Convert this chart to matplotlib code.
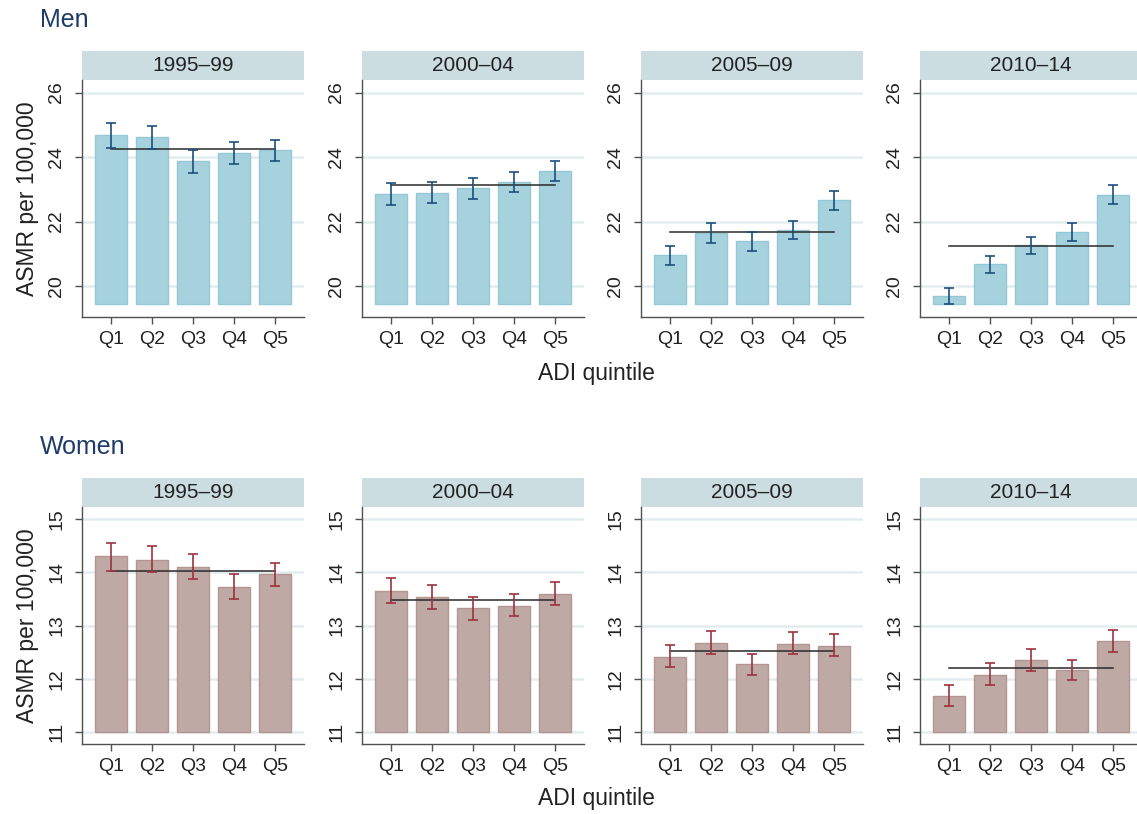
import matplotlib
matplotlib.use("Agg")
import matplotlib.pyplot as plt
import matplotlib.patches as patch
import numpy as np

plt.rcParams['font.family'] = ['Liberation Sans', 'DejaVu Sans']

periods = ['1995–99', '2000–04', '2005–09', '2010–14']
quintiles = ['Q1', 'Q2', 'Q3', 'Q4', 'Q5']

men_rate = [[24.67, 24.62, 23.87, 24.12, 24.21],
            [22.85, 22.88, 23.03, 23.22, 23.56],
            [20.95, 21.66, 21.40, 21.73, 22.67],
            [19.68, 20.67, 21.27, 21.67, 22.82]]
men_lo = [[24.29, 24.25, 23.51, 23.78, 23.88],
          [22.52, 22.57, 22.71, 22.91, 23.25],
          [20.64, 21.35, 21.10, 21.46, 22.37],
          [19.43, 20.39, 20.99, 21.40, 22.54]]
men_hi = [[25.07, 24.97, 24.21, 24.47, 24.54],
          [23.19, 23.22, 23.36, 23.54, 23.87],
          [21.24, 21.94, 21.67, 22.03, 22.95],
          [19.95, 20.94, 21.53, 21.96, 23.12]]
men_mean = [24.26, 23.12, 21.69, 21.23]

women_rate = [[14.30, 14.24, 14.11, 13.73, 13.96],
              [13.65, 13.54, 13.33, 13.37, 13.60],
              [12.41, 12.67, 12.28, 12.65, 12.62],
              [11.68, 12.07, 12.35, 12.16, 12.71]]
women_lo = [[14.03, 14.00, 13.87, 13.50, 13.74],
            [13.43, 13.31, 13.10, 13.17, 13.39],
            [12.21, 12.47, 12.06, 12.46, 12.43],
            [11.49, 11.88, 12.15, 11.97, 12.51]]
women_hi = [[14.55, 14.49, 14.35, 13.96, 14.17],
            [13.89, 13.77, 13.54, 13.60, 13.82],
            [12.64, 12.89, 12.47, 12.87, 12.84],
            [11.88, 12.29, 12.55, 12.36, 12.92]]
women_mean = [14.03, 13.48, 12.52, 12.20]

W, H = 1137, 814
fig = plt.figure(figsize=(W / 100, H / 100), dpi=100)


def px(x, y, w, h):
    return [x / W, 1 - (y + h) / H, w / W, h / H]


lefts = [82, 362, 641, 920]
pw = 222
strip_h = 29
txt = '#222222'


def draw_row(top, rate, lo, hi, mean, ylim, base, yticks, fc, ec, errc):
    axes = []
    for i, per in enumerate(periods):
        ax = fig.add_axes(px(lefts[i], top, pw, 237))
        x = np.arange(1, 6)
        r = np.array(rate[i])
        ax.bar(x, r - base, bottom=base, width=0.8, color=fc, edgecolor=ec,
               linewidth=1, zorder=2)
        ax.plot([1, 5], [mean[i], mean[i]], color='#2a2a2a', lw=1.1, zorder=3)
        ax.errorbar(x, r, yerr=[r - np.array(lo[i]), np.array(hi[i]) - r],
                    fmt='none', ecolor=errc, elinewidth=1.2, capsize=3.3,
                    capthick=1.2, zorder=4)
        ax.set_xlim(0.295, 5.705)
        ax.set_ylim(*ylim)
        ax.set_xticks(x)
        ax.set_xticklabels(quintiles)
        ax.set_yticks(yticks)
        ax.set_yticklabels([str(t) for t in yticks], rotation=90, va='center')
        ax.yaxis.grid(True, color='#e2edf0', lw=1.8)
        ax.set_axisbelow(True)
        for s in ['top', 'right']:
            ax.spines[s].set_visible(False)
        for s in ['left', 'bottom']:
            ax.spines[s].set_color('#505050')
            ax.spines[s].set_linewidth(1)
        ax.tick_params(axis='both', length=5, width=1, color='#505050',
                       labelsize=14, labelcolor=txt)
        ax.tick_params(axis='x', pad=5)
        ax.tick_params(axis='y', pad=7)
        sh = strip_h / 237
        ax.add_patch(patch.Rectangle((0, 1), 1, sh, transform=ax.transAxes,
                                     facecolor='#ccdde2', edgecolor='none',
                                     clip_on=False))
        ax.text(0.5, 1 + sh / 2, per, transform=ax.transAxes, ha='center',
                va='center', fontsize=15, color=txt)
        axes.append(ax)
    axes[0].set_ylabel('ASMR per 100,000', fontsize=16.5, color=txt, labelpad=7)
    return axes


draw_row(80, men_rate, men_lo, men_hi, men_mean, (19.04, 26.39), 19.45,
         [20, 22, 24, 26], '#a6d2de', '#95c8d6', '#1c4f7c')
draw_row(507, women_rate, women_lo, women_hi, women_mean, (10.77, 15.23), 11.0,
         [11, 12, 13, 14, 15], '#bfa9a5', '#b39591', '#9c3340')

fig.text(40 / W, 1 - 20 / H, 'Men', fontsize=18, color='#1e3a68', va='center')
fig.text(40 / W, 1 - 447 / H, 'Women', fontsize=18, color='#1e3a68', va='center')
fig.text(596 / W, 1 - 373 / H, 'ADI quintile', fontsize=16.5, color=txt,
         ha='center', va='center')
fig.text(596 / W, 1 - 798 / H, 'ADI quintile', fontsize=16.5, color=txt,
         ha='center', va='center')

fig.savefig('out.png', dpi=100, facecolor='white')
